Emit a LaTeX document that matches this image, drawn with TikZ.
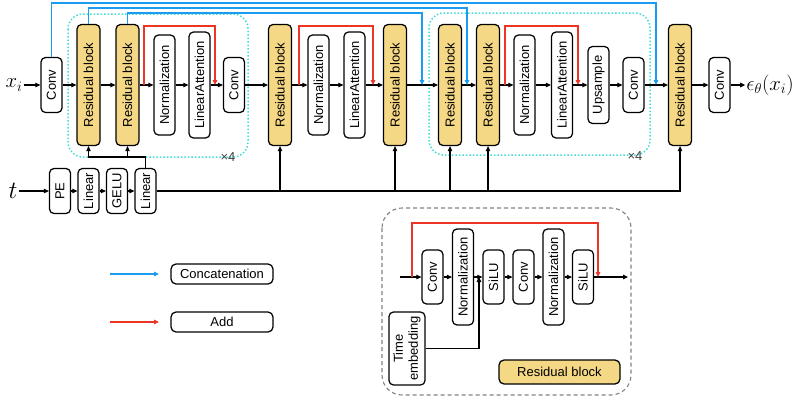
\documentclass[tikz,border=0pt]{standalone}
\usepackage{fontspec}
\setsansfont{Liberation Sans}
\usetikzlibrary{arrows.meta}

\definecolor{rbyellow}{RGB}{245,216,134}
\definecolor{catblue}{RGB}{28,156,240}
\definecolor{addred}{RGB}{238,52,36}
\definecolor{loopcyan}{RGB}{64,222,210}
\definecolor{framegray}{RGB}{130,130,130}

\begin{document}
\begin{tikzpicture}[x=1pt,y=-1pt,
  blk/.style={draw, line width=1.25pt, rounded corners=4.5pt, rotate=90, inner sep=0pt,
    minimum height=21pt, font=\sffamily\fontsize{13}{15}\selectfont},
  res/.style={blk, fill=rbyellow, minimum width=121pt, minimum height=23pt},
  tag/.style={draw, line width=1.25pt, rounded corners=5pt, inner sep=0pt,
    minimum width=102pt, minimum height=20pt, font=\sffamily\fontsize{13}{15}\selectfont},
  lbl/.style={inner sep=1pt, font=\fontsize{21}{24}\selectfont},
  arr/.style={line width=1.1pt, -{Triangle[length=5pt,width=4.5pt]}},
  cat/.style={arr, catblue, line width=1.3pt},
  add/.style={arr, addred, line width=1.3pt},
  loopframe/.style={loopcyan, line width=1.5pt, dotted, rounded corners=15pt},
  detail/.style={framegray, line width=1.1pt, dash pattern=on 4pt off 3pt, rounded corners=20pt},
  rep/.style={inner sep=0pt, text=black!75, font=\sffamily\fontsize{13}{15}\selectfont}]

\useasboundingbox (0,0) rectangle (795,402);

% loop frames (x4)
\draw[loopframe] (68,14) rectangle (248,157);
\draw[loopframe] (429,13) rectangle (650,155);
\node[rep] (rep1) at (228,157) {×4};
\node[rep] (rep2) at (635,156) {×4};

% main row
\node[lbl] (xin) at (14,85) {$x_i$};
\node[blk, minimum width=55pt] (conv1) at (51.5,85) {Conv};
\node[res] (rb1) at (88.5,85) {Residual block};
\node[res] (rb2) at (127.5,85) {Residual block};
\node[blk, minimum width=100pt] (norm1) at (164.5,85) {Normalization};
\node[blk, minimum width=106pt] (att1) at (199.5,85) {LinearAttention};
\node[blk, minimum width=55pt] (conv2) at (234,85) {Conv};
\node[res] (rb3) at (280,85) {Residual block};
\node[blk, minimum width=100pt] (norm2) at (318.5,85) {Normalization};
\node[blk, minimum width=106pt] (att2) at (354.5,85) {LinearAttention};
\node[res] (rb4) at (395,85) {Residual block};
\node[res] (rb5) at (450,85) {Residual block};
\node[res] (rb6) at (488,85) {Residual block};
\node[blk, minimum width=100pt] (norm3) at (524.5,85) {Normalization};
\node[blk, minimum width=106pt] (att3) at (562,85) {LinearAttention};
\node[blk, minimum width=77pt] (up) at (598.5,85) {Upsample};
\node[blk, minimum width=55pt] (conv3) at (633.5,85) {Conv};
\node[res] (rb7) at (680,85) {Residual block};
\node[blk, minimum width=55pt] (conv4) at (719.5,85) {Conv};
\node[lbl] (eps) at (770,85) {$\epsilon_\theta(x_i)$};

\foreach \a/\b in {xin/conv1, conv1/rb1, rb1/rb2, rb2/norm1, norm1/att1, att1/conv2,
    conv2/rb3, rb3/norm2, norm2/att2, att2/rb4, rb4/rb5, rb5/rb6, rb6/norm3,
    norm3/att3, att3/up, up/conv3, conv3/rb7, rb7/conv4, conv4/eps}
  \draw[arr] (\a) -- (\b);

% skip connections
\coordinate (s1) at (656,85);
\coordinate (s2) at (467,85);
\coordinate (s3) at (422,85);
\draw[cat] (conv1.east) -- ++(0,-54) -| (s1);
\draw[cat] (rb1.east) -- ++(0,-16) -| (s2);
\draw[cat] (rb2.east) -- ++(0,-11) -| (s3);

% additions
\coordinate (a1s) at (144,85);
\coordinate (a1e) at (215,85);
\coordinate (a2s) at (299,85);
\coordinate (a2e) at (373,85);
\coordinate (a3s) at (505,85);
\coordinate (a3e) at (578,85);
\foreach \s/\e in {a1s/a1e, a2s/a2e, a3s/a3e}
  \draw[add] (\s) -- ++(0,-59) -| (\e);

% time embedding
\node[lbl, font=\fontsize{23}{26}\selectfont] (t) at (13,191) {$t$};
\node[blk, minimum width=45pt] (pe) at (60,191) {PE};
\node[blk, minimum width=45pt] (lin1) at (88.5,191) {Linear};
\node[blk, minimum width=45pt] (gelu) at (117,191) {GELU};
\node[blk, minimum width=45pt] (lin2) at (145.5,191) {Linear};
\foreach \a/\b in {t/pe, pe/lin1, lin1/gelu, gelu/lin2}
  \draw[arr] (\a) -- (\b);

\draw[arr] (lin2.south) -| (rb7.west);
\foreach \n in {rb3,rb4,rb5,rb6}
  \draw[arr] (\n.west |- lin2) -- (\n.west);
\coordinate (tj) at (145.5,157);
\draw[arr] (lin2.east) -- (tj) -| (rb1.west);
\draw[arr] (rb2.west |- tj) -- (rb2.west);

% legend
\coordinate (lc1) at (110,274);
\coordinate (lc2) at (159,274);
\coordinate (la1) at (110,322);
\coordinate (la2) at (159,322);
\draw[cat] (lc1) -- (lc2);
\draw[add] (la1) -- (la2);
\node[tag] (lcat) at (222,274) {Concatenation};
\node[tag] (ladd) at (222,322) {Add};

% residual block detail
\draw[detail] (382,208) rectangle (631,395);
\coordinate (din) at (400,277);
\coordinate (dout) at (628,277);
\node[blk, minimum width=54pt] (dconv1) at (432.5,277) {Conv};
\node[blk, minimum width=96pt] (dnorm1) at (463,277) {Normalization};
\node[blk, minimum width=54pt] (dsilu1) at (493.5,277) {SiLU};
\node[blk, minimum width=54pt] (dconv2) at (523.5,277) {Conv};
\node[blk, minimum width=96pt] (dnorm2) at (553.5,277) {Normalization};
\node[blk, minimum width=54pt] (dsilu2) at (583,277) {SiLU};
\foreach \a/\b in {din/dconv1, dconv1/dnorm1, dnorm1/dsilu1, dsilu1/dconv2,
    dconv2/dnorm2, dnorm2/dsilu2, dsilu2/dout}
  \draw[arr] (\a) -- (\b);

\coordinate (das) at (412,277);
\coordinate (dae) at (598,277);
\draw[add] (das) -- ++(0,-54) -| (dae);

\node[blk, minimum width=73pt, minimum height=36pt, align=center] (temb) at (407,348.5) {Time\\embedding};
\coordinate (dtj) at (479,277);
\draw[arr] (temb.south) -| (dtj);

\node[tag, fill=rbyellow, minimum width=121pt, minimum height=24pt] (dkey) at (559.5,372) {Residual block};

\end{tikzpicture}
\end{document}
